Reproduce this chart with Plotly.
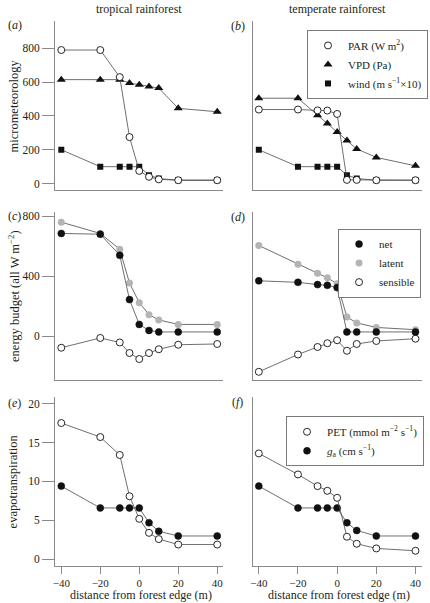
import plotly.graph_objects as go

# ---------------- data ----------------
distance = [-40, -20, -10, -5, 0, 5, 10, 20, 40]
x_ticks = [-40, -20, 0, 20, 40]

# (a) tropical micrometeorology
par_trop = [790, 790, 630, 275, 75, 40, 25, 20, 20]
vpd_trop = [615, 615, 615, 595, 585, 575, 565, 445, 425]
wind_trop = [200, 100, 100, 100, 100, 50, 30, 20, 20]
# (b) temperate micrometeorology
par_temp = [438, 438, 433, 432, 412, 22, 22, 20, 20]
vpd_temp = [505, 505, 405, 355, 305, 255, 205, 155, 105]
wind_temp = [200, 100, 100, 100, 100, 50, 30, 20, 20]
# (c) tropical energy budget
net_trop = [685, 680, 540, 245, 80, 40, 30, 30, 30]
latent_trop = [760, 685, 580, 355, 225, 145, 110, 80, 80]
sens_trop = [-75, -10, -40, -110, -150, -110, -85, -55, -50]
# (d) temperate energy budget
net_temp = [370, 360, 345, 340, 325, 30, 30, 30, 30]
latent_temp = [605, 480, 420, 390, 350, 130, 90, 60, 45]
sens_temp = [-235, -120, -70, -45, -25, -95, -50, -30, -15]
# (e) tropical evapotranspiration
pet_trop = [17.5, 15.7, 13.4, 8.1, 5.2, 3.4, 2.6, 1.9, 1.9]
ga_trop = [9.4, 6.6, 6.6, 6.6, 6.6, 4.7, 3.6, 3.0, 3.0]
# (f) temperate evapotranspiration
pet_temp = [13.6, 10.9, 9.4, 8.8, 7.9, 2.9, 2.0, 1.4, 1.1]
ga_temp = [9.4, 6.6, 6.6, 6.6, 6.6, 4.7, 3.7, 3.0, 3.0]

col_titles = ["tropical rainforest", "temperate rainforest"]
row_titles = ["micrometeorology", "energy budget (all W m<sup>−2</sup>)", "evapotranspiration"]
x_title = "distance from forest edge (m)"

# ---------------- style ----------------
W, H = 430, 603
FONT = "'Liberation Serif', 'Times New Roman', serif"
TXT = "#231f20"
AX = "#8a8a8a"
LINE = dict(color="#4a4a4a", width=0.8)

def px_x(p):
    return p / W

def px_y(p):
    return 1 - p / H

col_dom = [(px_x(53.3), px_x(222.5)), (px_x(251.7), px_x(421.7))]
row_dom = [(px_y(189.5), px_y(20)), (px_y(380), px_y(211)), (px_y(565.5), px_y(397))]
y_ranges = [[-39, 962], [-292, 830], [-0.8, 20.8]]
x_range = [-43.2, 43.2]

fig = go.Figure()

open_c = dict(symbol="circle", size=7, color="white", line=dict(color="#111", width=0.9))
fill_c = dict(symbol="circle", size=7, color="#111", line=dict(color="#111", width=0.5))
grey_c = dict(symbol="circle", size=7, color="#b4b4b4", line=dict(width=0))
tri = dict(symbol="triangle-up", size=8, color="#111", line=dict(width=0))
sq = dict(symbol="square", size=6, color="#111", line=dict(width=0))

panels = [
    (0, 0, [(wind_trop, sq), (vpd_trop, tri), (par_trop, open_c)]),
    (0, 1, [(wind_temp, sq), (vpd_temp, tri), (par_temp, open_c)]),
    (1, 0, [(sens_trop, open_c), (latent_trop, grey_c), (net_trop, fill_c)]),
    (1, 1, [(sens_temp, open_c), (latent_temp, grey_c), (net_temp, fill_c)]),
    (2, 0, [(ga_trop, fill_c), (pet_trop, open_c)]),
    (2, 1, [(ga_temp, fill_c), (pet_temp, open_c)]),
]

for i, (r, c, series) in enumerate(panels):
    k = i + 1
    xa = "x" if k == 1 else f"x{k}"
    ya = "y" if k == 1 else f"y{k}"
    for vals, mk in series:
        fig.add_trace(go.Scatter(x=distance, y=vals, mode="lines+markers",
                                 line=LINE, marker=mk, xaxis=xa, yaxis=ya,
                                 showlegend=False, hoverinfo="skip"))
    bottom = (r == 2)
    left = (c == 0)
    fig.update_layout(**{
        ("xaxis" if k == 1 else f"xaxis{k}"): dict(
            domain=col_dom[c], range=x_range, anchor=ya,
            showline=True, linecolor=AX, linewidth=1, showgrid=False, zeroline=False,
            ticks="outside" if bottom else "", tickvals=x_ticks, ticklen=7,
            tickcolor=AX, tickwidth=1, showticklabels=bottom,
            tickfont=dict(family=FONT, size=11, color=TXT), fixedrange=True),
        ("yaxis" if k == 1 else f"yaxis{k}"): dict(
            domain=row_dom[r], range=y_ranges[r], anchor=xa,
            showline=True, linecolor=AX, linewidth=1, showgrid=False, zeroline=False,
            ticks="outside" if left else "", ticklen=12, tickcolor=AX, tickwidth=1,
            showticklabels=left,
            tickvals=[[0, 200, 400, 600, 800], [0, 400, 800], [0, 5, 10, 15, 20]][r],
            tickfont=dict(family=FONT, size=11.5, color=TXT), fixedrange=True),
    })

# legend-only traces
leg_items = [
    ("legend", "PAR (W m<sup>2</sup>)", open_c),
    ("legend", "VPD (Pa)", tri),
    ("legend", "wind (m s<sup>−1</sup>×10)", sq),
    ("legend2", "net", fill_c),
    ("legend2", "latent", grey_c),
    ("legend2", "sensible", open_c),
    ("legend3", "PET (mmol m<sup>−2</sup> s<sup>−1</sup>)", open_c),
    ("legend3", "<i>g</i><sub>a</sub> (cm s<sup>−1</sup>)", fill_c),
]
for lg, name, mk in leg_items:
    fig.add_trace(go.Scatter(x=[None], y=[None], mode="markers", marker=mk,
                             name=name, legend=lg, showlegend=True,
                             xaxis="x2", yaxis="y2"))

leg_common = dict(bgcolor="white", bordercolor="#7a7a7a", borderwidth=1,
                  font=dict(family=FONT, size=11, color=TXT),
                  itemwidth=30, tracegroupgap=0, xanchor="right", yanchor="top",
                  xref="paper", yref="paper", itemclick=False, itemdoubleclick=False)
fig.update_layout(
    legend=dict(x=px_x(428), y=px_y(29), **leg_common),
    legend2=dict(x=px_x(421), y=px_y(228), **leg_common),
    legend3=dict(x=px_x(424), y=px_y(416), **leg_common),
)

ann = []
for c, t in enumerate(col_titles):
    ann.append(dict(text=t, x=(col_dom[c][0] + col_dom[c][1]) / 2, y=px_y(8),
                    xref="paper", yref="paper", showarrow=False,
                    xanchor="center", yanchor="middle",
                    font=dict(family=FONT, size=12, color=TXT)))
for r, t in enumerate(row_titles):
    ann.append(dict(text=t, x=px_x(12), y=(row_dom[r][0] + row_dom[r][1]) / 2,
                    xref="paper", yref="paper", showarrow=False, textangle=-90,
                    xanchor="center", yanchor="middle",
                    font=dict(family=FONT, size=12.5, color=TXT)))
for c in range(2):
    ann.append(dict(text=x_title, x=(col_dom[c][0] + col_dom[c][1]) / 2 + px_x(2),
                    y=px_y(595),
                    xref="paper", yref="paper", showarrow=False,
                    xanchor="center", yanchor="middle",
                    font=dict(family=FONT, size=12, color=TXT)))
letters = [("a", 13, 24), ("b", 237, 25), ("c", 13, 215), ("d", 237, 216),
           ("e", 13, 403), ("f", 237, 402)]
for l, xx, yy in letters:
    ann.append(dict(text=f"(<i>{l}</i>)", x=px_x(xx), y=px_y(yy),
                    xref="paper", yref="paper", showarrow=False,
                    xanchor="center", yanchor="middle",
                    font=dict(family=FONT, size=12, color=TXT)))

fig.update_layout(
    width=W, height=H, autosize=False,
    margin=dict(l=0, r=0, t=0, b=0),
    paper_bgcolor="white", plot_bgcolor="white",
    annotations=ann, showlegend=True,
    font=dict(family=FONT, color=TXT),
)

fig.write_html("out.html", config={"displayModeBar": False},
               post_script="document.body.style.margin='0';document.body.style.overflow='hidden';")
